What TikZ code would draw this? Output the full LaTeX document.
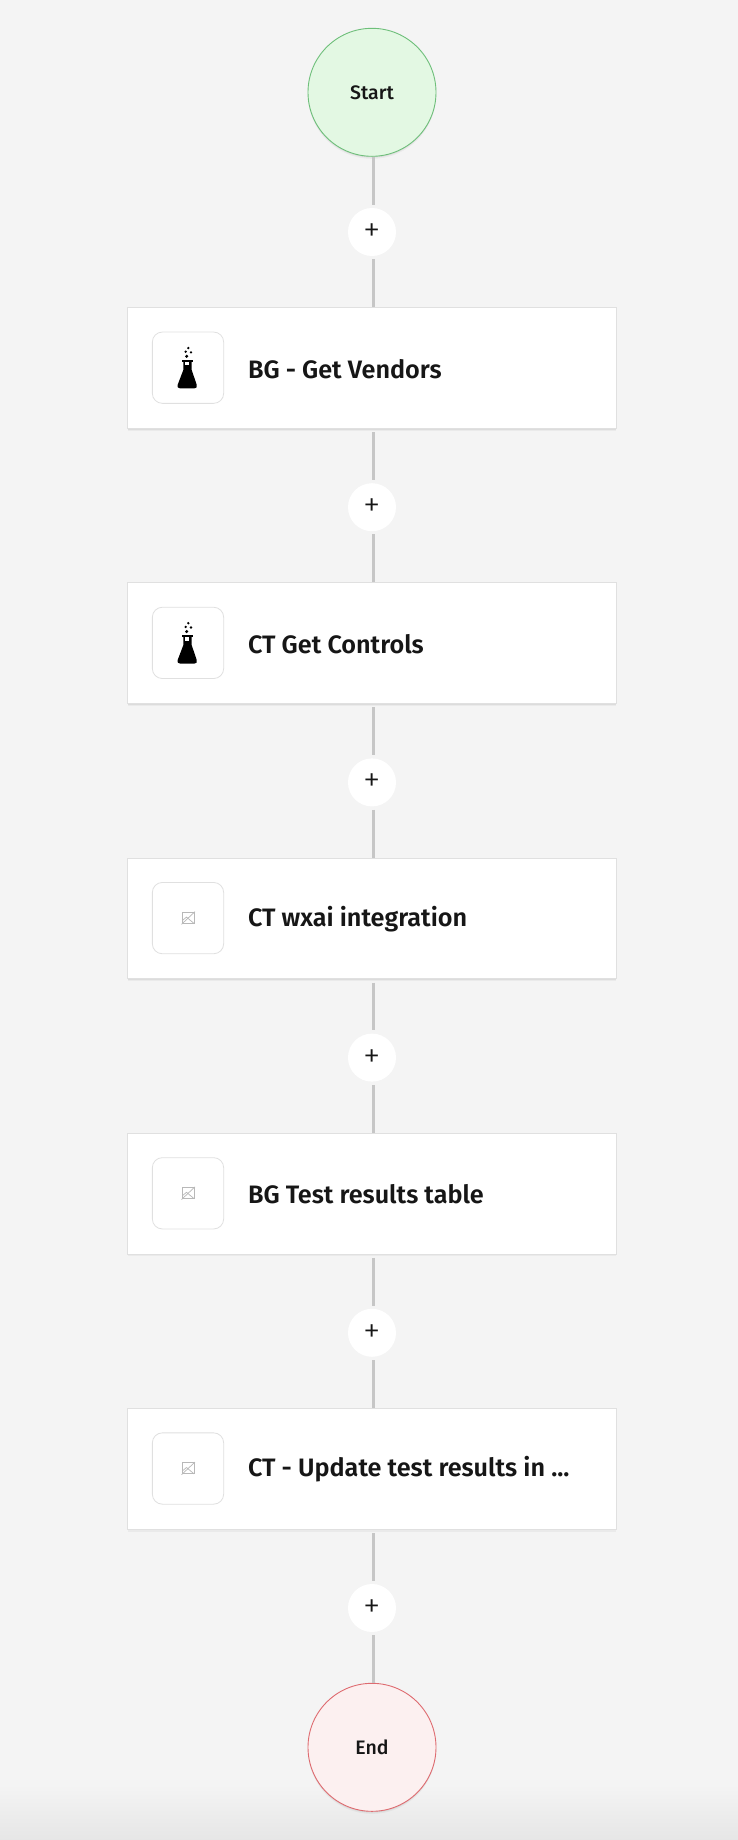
\documentclass[tikz,border=0pt]{standalone}
\usepackage{fontspec}
\setmainfont{Fira Sans}
\newfontfamily\titlefont{Fira Sans}[UprightFont={* SemiBold}]
\newfontfamily\startfont{Fira Sans}[UprightFont={* Medium}]
\newfontfamily\plusfont{Fira Sans}[UprightFont={* Light}]
\usetikzlibrary{shadows}
\definecolor{pagegray}{HTML}{F4F4F4}
\definecolor{pageedge}{HTML}{E6E6E6}
\definecolor{linkgray}{HTML}{C6C6C6}
\definecolor{cardline}{HTML}{E0E0E0}
\definecolor{inkblack}{HTML}{161616}
\definecolor{startfill}{HTML}{E3F8E3}
\definecolor{startline}{HTML}{6EBF7A}
\definecolor{endfill}{HTML}{FCF0F0}
\definecolor{endline}{HTML}{DE6B70}
\newcommand{\plusmark}{\raisebox{-9.5pt}[14pt][14pt]{+}}
\tikzset{
  softshadow/.style={
    drop shadow={shadow xshift=0pt,shadow yshift=-2.5pt,opacity=.04,fill=black},
    drop shadow={shadow xshift=0pt,shadow yshift=-1.2pt,opacity=.06,fill=black}},
  terminal/.style={circle,minimum size=128pt,inner sep=0pt,line width=.9pt,softshadow,
    text=inkblack,font=\startfont\fontsize{19.5}{22}\selectfont},
  addnode/.style={circle,minimum size=48pt,inner sep=0pt,fill=white,
    text=inkblack,font=\plusfont\fontsize{35}{35}\selectfont},
  card/.style={rectangle,minimum width=488.7pt,minimum height=120.8pt,inner sep=0pt,
    fill=white,draw=cardline,line width=.8pt,softshadow},
  iconbox/.style={rectangle,rounded corners=10pt,minimum width=71.3pt,minimum height=71.3pt,
    inner sep=0pt,fill=white,draw=cardline,line width=.8pt},
  title/.style={anchor=west,inner sep=0pt,text=inkblack,font=\titlefont\fontsize{25.2}{28}\selectfont},
  link/.style={draw=linkgray,line width=2.75pt,transform canvas={xshift=1.3pt}},
  flaskicon/.pic={
    \fill[black] (-6,-7.7) rectangle (5.3,-6);
    \fill[black] (-4.7,-6.5) -- (3.7,-6.5) -- (3.7,2.3) -- (8.7,17)
      .. controls (9.4,19.5) and (8.5,20.6) .. (6.5,20.6) -- (-8,20.6)
      .. controls (-10.2,20.6) and (-11,19.5) .. (-10.3,17) -- (-4.7,2.3) -- cycle;
    \fill[white] (-2.7,-5.7) rectangle (1.3,-2.4);
    \fill[black] (0.3,-19.7) circle (1.3pt);
    \fill[black] (-2.3,-16) circle (1.3pt);
    \fill[black] (3,-15.4) circle (1.3pt);
    \fill[black] (-1.3,-11.4) circle (1.7pt);
  },
  brokenicon/.pic={
    \draw[black!28,line width=.7pt] (-5.7,-5.7) rectangle (6,5.3);
    \draw[black!28,line width=.7pt] (-6.5,6.2) -- (7,-6.5);
    \draw[black!28,line width=.7pt] (-5.7,2.5) -- (-1.5,-1) -- (6,5.3);
  }
}
\begin{document}
\begin{tikzpicture}[x=1pt,y=-1pt]
  \useasboundingbox (0,0) rectangle (738,1840);
  \fill[pagegray] (0,0) rectangle (738,1840);
  \shade[top color=pagegray,bottom color=pageedge] (0,1785) rectangle (738,1840);
  % start and end
  \node[terminal,fill=startfill,draw=startline] (start) at (372,92.3) {Start};
  \node[terminal,fill=endfill,draw=endline] (end) at (372,1747.3) {End};
  % plus buttons
  \node[addnode] (add1) at (372,232) {\plusmark};
  \node[addnode] (add2) at (372,507.2) {\plusmark};
  \node[addnode] (add3) at (372,782.4) {\plusmark};
  \node[addnode] (add4) at (372,1057.6) {\plusmark};
  \node[addnode] (add5) at (372,1332.8) {\plusmark};
  \node[addnode] (add6) at (372,1608) {\plusmark};
  % cards
  \node[card] (vendors) at (372,367.9) {};
  \node[card] (controls) at (372,643.1) {};
  \node[card] (wxai) at (372,918.3) {};
  \node[card] (table) at (372,1193.5) {};
  \node[card] (update) at (372,1468.7) {};
  % icon boxes
  \node[iconbox] (vendorsicon) at (188,367.7) {};
  \node[iconbox] (controlsicon) at (188,642.9) {};
  \node[iconbox] (wxaiicon) at (188,918.1) {};
  \node[iconbox] (tableicon) at (188,1193.3) {};
  \node[iconbox] (updateicon) at (188,1468.5) {};
  \pic at (vendorsicon) {flaskicon};
  \pic at (controlsicon) {flaskicon};
  \pic at (wxaiicon) {brokenicon};
  \pic at (tableicon) {brokenicon};
  \pic at (updateicon) {brokenicon};
  % titles
  \node[title] (vendorstext) at (247.8,368.7) {BG - Get Vendors};
  \node[title] (controlstext) at (247.8,643.9) {CT Get Controls};
  \node[title] (wxaitext) at (247.8,919.1) {CT wxai integration};
  \node[title] (tabletext) at (247.8,1194.3) {BG Test results table};
  \node[title] (updatetext) at (247.8,1469.5) {CT - Update test results in ...};
  % links
  \begin{scope}[every edge/.style={link}]
    \path (start) edge[shorten >=3pt] (add1);
    \path (add1) edge[shorten <=3pt] (vendors);
    \path (vendors) edge[shorten <=3.5pt,shorten >=3pt] (add2);
    \path (add2) edge[shorten <=3pt] (controls);
    \path (controls) edge[shorten <=3.5pt,shorten >=3pt] (add3);
    \path (add3) edge[shorten <=3pt] (wxai);
    \path (wxai) edge[shorten <=3.5pt,shorten >=3pt] (add4);
    \path (add4) edge[shorten <=3pt] (table);
    \path (table) edge[shorten <=3.5pt,shorten >=3pt] (add5);
    \path (add5) edge[shorten <=3pt] (update);
    \path (update) edge[shorten <=3.5pt,shorten >=3pt] (add6);
    \path (add6) edge[shorten <=3pt] (end);
  \end{scope}
\end{tikzpicture}
\end{document}
